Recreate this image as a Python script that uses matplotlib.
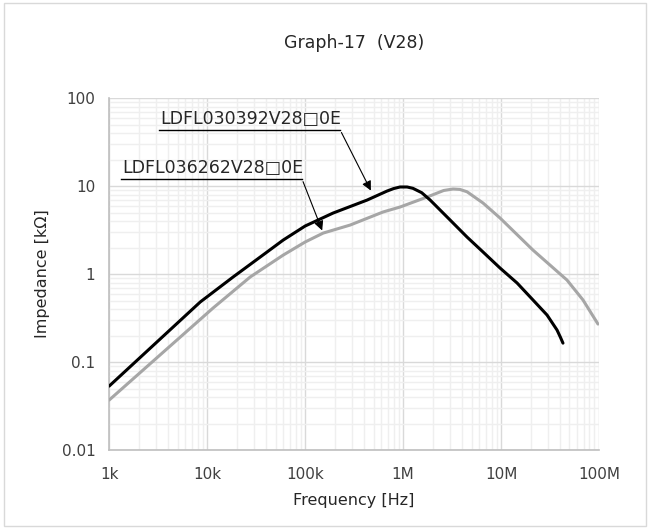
import matplotlib.pyplot as plt
from matplotlib.patches import Rectangle
from matplotlib.ticker import LogLocator, FixedLocator, NullFormatter

# LDFL030392V28□0E (negra)
f_a = [1.0e3, 8.5e3, 18.4e3, 40.9e3, 59.7e3, 100e3, 193e3, 430e3, 687e3, 800e3, 931e3,
       1.1e6, 1.26e6, 1.55e6, 1.89e6, 3.02e6, 4.5e6, 6.55e6, 9.77e6, 14.6e6, 21.2e6,
       29.5e6, 37.3e6, 40.5e6, 42.9e6]
z_a = [0.0533, 0.481, 0.925, 1.78, 2.43, 3.51, 4.93, 6.93, 8.77, 9.35, 9.75,
       9.75, 9.42, 8.4, 6.93, 4.11, 2.63, 1.78, 1.17, 0.79, 0.507,
       0.342, 0.231, 0.19, 0.164]

# LDFL036262V28□0E (gris)
f_b = [1.0e3, 11.5e3, 27.5e3, 59.7e3, 100e3, 153e3, 288e3, 625e3, 931e3, 1.76e6,
       2.6e6, 3.24e6, 3.8e6, 4.5e6, 6.55e6, 9.77e6, 21.2e6, 47.1e6, 68.7e6, 97.7e6]
z_b = [0.037, 0.411, 0.925, 1.64, 2.31, 2.92, 3.6, 5.07, 5.77, 7.5,
       8.9, 9.25, 9.15, 8.6, 6.41, 4.33, 1.87, 0.855, 0.507, 0.27]

x_ticks = [1e3, 1e4, 1e5, 1e6, 1e7, 1e8]
x_labels = ['1k', '10k', '100k', '1M', '10M', '100M']
y_ticks = [0.01, 0.1, 1, 10, 100]
y_labels = ['0.01', '0.1', '1', '10', '100']

fig = plt.figure(figsize=(6.5, 5.29), dpi=100)
ax = fig.add_axes([0.168, 0.1493, 0.7535, 0.6654])

# borde exterior del grafico
fig.patches.append(Rectangle((0.006, 0.006), 0.988, 0.988, transform=fig.transFigure,
                             fill=False, edgecolor='#d9d9d9', linewidth=1))

ax.plot(f_b, z_b, color='#a6a6a6', linewidth=2.2, solid_capstyle='round', zorder=3)
ax.plot(f_a, z_a, color='black', linewidth=2.2, solid_capstyle='round', zorder=4)

ax.set_xscale('log')
ax.set_yscale('log')
ax.set_xlim(1e3, 1e8)
ax.set_ylim(0.01, 100)

ax.xaxis.set_major_locator(FixedLocator(x_ticks))
ax.set_xticklabels(x_labels)
ax.yaxis.set_major_locator(FixedLocator(y_ticks))
ax.set_yticklabels(y_labels)
ax.xaxis.set_minor_locator(LogLocator(base=10, subs=range(2, 10), numticks=20))
ax.yaxis.set_minor_locator(LogLocator(base=10, subs=range(2, 10), numticks=20))
ax.xaxis.set_minor_formatter(NullFormatter())
ax.yaxis.set_minor_formatter(NullFormatter())

ax.grid(which='major', color='#d9d9d9', linewidth=1)
ax.grid(which='minor', color='#efefef', linewidth=1)
ax.set_axisbelow(True)
ax.tick_params(which='both', length=0, labelsize=11, colors='#404040')
ax.tick_params(axis='x', pad=12)
ax.tick_params(axis='y', pad=10)
for s in ['top', 'right']:
    ax.spines[s].set_visible(False)
for s in ['left', 'bottom']:
    ax.spines[s].set_color('#bfbfbf')
    ax.spines[s].set_linewidth(1.2)

ax.set_title('Graph-17  (V28)', fontsize=12.5, color='#262626', pad=36)
ax.set_xlabel('Frequency [Hz]', fontsize=11.5, color='#262626', labelpad=8)
ax.set_ylabel('Impedance [kΩ]', fontsize=11.5, color='#262626', labelpad=8)

# etiquetas con flecha
ax.annotate('', xy=(483e3, 8.32), xytext=(228e3, 43.3),
            arrowprops=dict(arrowstyle='-|>', color='black', lw=0.8, mutation_scale=14), zorder=5)
ax.annotate('', xy=(153e3, 2.92), xytext=(93e3, 12.0),
            arrowprops=dict(arrowstyle='-|>', color='black', lw=0.8, mutation_scale=14), zorder=5)
ax.plot([3.24e3, 228e3], [43.3, 43.3], color='black', linewidth=1, zorder=5)
ax.plot([1.32e3, 93e3], [12.0, 12.0], color='black', linewidth=1, zorder=5)
ax.text(3.3e3, 45.5, 'LDFL030392V28□0E', fontsize=12.5, ha='left', va='bottom', color='#262626')
ax.text(1.35e3, 12.6, 'LDFL036262V28□0E', fontsize=12.5, ha='left', va='bottom', color='#262626')

fig.savefig('out.png')
